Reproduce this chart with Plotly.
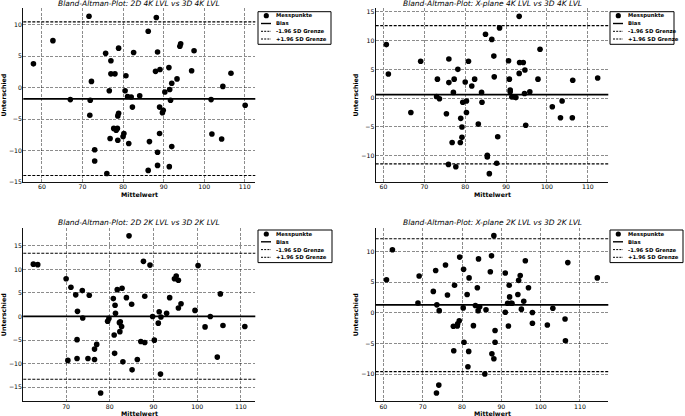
import plotly.graph_objects as go

W, H = 685, 416
FONT = "DejaVu Sans"

# ---------------- data ----------------
titles = [
    "Bland-Altman-Plot: 2D 4K LVL vs 3D 4K LVL",
    "Bland-Altman-Plot: X-plane 4K LVL vs 3D 4K LVL",
    "Bland-Altman-Plot: 2D 2K LVL vs 3D 2K LVL",
    "Bland-Altman-Plot: X-plane 2K LVL vs 3D 2K LVL",
]

mean_2d4k = [57.9, 62.7, 67.0, 71.6, 71.9, 72.2, 71.8, 73.0, 73.0, 75.7, 76.0, 76.6, 77.0, 77.0, 78.0, 76.8,
             77.7, 78.3, 78.6, 78.7, 78.9, 78.7, 78.9, 80.0, 80.2, 80.5, 80.7, 81.1, 81.4, 82.0, 82.3, 82.6,
             84.1, 86.2, 86.2, 86.5, 88.2, 88.0, 88.5, 88.5, 88.5, 89.1, 89.0, 89.0, 89.7, 89.9, 90.3, 91.3,
             91.5, 91.7, 91.4, 92.0, 92.0, 93.3, 94.0, 94.2, 96.9, 97.5, 101.7, 101.9, 104.3, 104.6, 106.6, 110.1]
diff_2d4k = [3.8, 7.5, -1.9, 11.4, -2.0, 1.0, -4.4, -9.9, -11.7, 5.5, -13.7, -0.5, 4.3, 2.2, 2.2, -8.1,
             -6.5, -6.8, -6.5, -4.5, -4.1, -8.4, 6.3, -7.8, -7.3, -0.5, 1.9, -1.4, -8.9, -1.5, -3.1, 5.6,
             -1.3, 9.0, -13.2, -8.6, 11.2, 2.6, 5.7, -10.3, -12.4, 2.9, -3.1, -7.3, -4.0, -3.6, -0.7, 3.2,
             -0.3, -2.0, -12.6, 0.7, -9.4, 1.4, 6.6, 7.0, 2.7, 5.9, -1.9, -7.4, -8.2, 0.2, 2.3, -2.8]

mean_xp4k = [60.7, 61.2, 66.7, 69.1, 73.0, 73.7, 73.2, 75.4, 75.9, 76.0, 76.0, 76.8, 77.1, 77.3, 77.7, 78.2,
             78.8, 78.9, 79.2, 79.2, 79.4, 80.0, 80.3, 80.3, 80.8, 81.6, 82.3, 83.2, 84.0, 84.1, 84.96, 85.4,
             85.4, 85.9, 86.5, 87.0, 87.1, 87.7, 87.95, 88.4, 90.6, 90.8, 91.0, 91.0, 91.4, 92.0, 92.4, 93.2,
             93.2, 93.3, 94.2, 94.6, 94.5, 94.8, 95.8, 97.8, 98.3, 101.3, 103.3, 103.7, 106.2, 106.3, 112.4]
diff_xp4k = [9.3, 4.2, -2.5, 6.4, 0.3, -0.1, 3.3, -2.7, -11.5, 6.8, 2.7, -7.7, 1.0, 3.3, -11.9, 5.0,
             -7.7, -3.5, -5.0, -6.8, -0.7, 2.8, -0.5, -2.5, 6.4, 2.1, 3.3, -4.5, 1.0, -0.7, 11.1, -10.2,
             -9.9, -13.1, 10.2, 7.3, 3.7, -11.3, -6.7, 12.2, 6.5, 3.3, 1.4, 1.1, 0.2, 0.2, 0.1, 14.2,
             4.3, 6.2, 6.2, 4.9, 0.8, -4.7, 1.1, 3.3, 8.5, -1.5, -3.4, -0.5, -3.4, 3.1, 3.5]

mean_2d2k = [62.5, 63.5, 70.0, 70.4, 71.1, 72.2, 72.6, 72.5, 72.5, 73.7, 73.8, 75.0, 75.3, 76.5, 76.5, 77.0,
             77.9, 79.5, 79.8, 80.8, 81.0, 81.1, 81.2, 81.3, 81.7, 82.2, 82.4, 82.3, 82.7, 82.8, 83.0, 83.8,
             84.4, 85.0, 85.1, 86.3, 87.1, 87.7, 88.0, 88.0, 89.2, 89.8, 90.2, 91.1, 91.3, 91.6, 91.7, 93.0,
             93.7, 94.8, 95.2, 95.7, 95.7, 96.3, 99.5, 100.2, 101.8, 103.0, 104.6, 105.3, 105.9, 110.9]
diff_2d2k = [11.1, 11.0, 8.0, -9.3, 6.2, 4.6, 1.1, -4.9, -8.9, 5.5, -0.3, -8.9, 4.5, -6.9, -9.1, -5.9,
             -16.2, -1.0, -0.4, 3.8, -3.9, -7.8, 2.4, 0.7, 5.7, -1.3, -1.1, -3.2, -2.1, 6.0, -9.6, 4.0,
             17.1, 2.6, -11.3, -9.1, -5.3, 11.7, 4.3, -5.5, 10.9, 0.0, -5.0, -1.4, 1.0, -12.2, -0.1, 0.7,
             4.0, 8.0, 8.6, 7.7, 1.8, 2.7, 1.3, 10.8, -2.2, 0.0, -8.6, 4.8, -1.9, -2.1]

mean_xp2k = [60.8, 62.3, 69.1, 68.8, 72.7, 73.3, 73.5, 73.6, 74.1, 74.2, 75.8, 76.3, 77.8, 77.9, 78.1, 78.8,
             78.9, 79.3, 79.4, 80.3, 80.4, 80.5, 81.3, 81.8, 81.7, 81.5, 82.9, 83.4, 83.9, 84.2, 84.1, 84.5,
             86.1, 85.8, 87.2, 87.5, 87.6, 88.1, 88.1, 88.4, 88.4, 91.0, 91.0, 91.6, 91.8, 92.0, 92.1, 92.4,
             92.7, 94.2, 94.4, 94.8, 95.1, 95.7, 96.1, 96.9, 97.9, 97.9, 101.7, 103.1, 106.2, 106.3, 106.9, 114.4]
diff_xp2k = [5.4, 10.3, 6.0, 1.6, 3.5, 6.9, -13.1, 1.3, -11.8, 0.35, 7.8, 2.9, -2.2, -6.2, 4.5, -2.15,
             -1.8, -1.3, 9.1, 0.8, 7.1, -4.8, 3.0, 5.7, -6.3, -8.8, -2.1, 1.2, 4.1, 8.8, 0.35, 1.0,
             0.5, -10.0, 6.7, 9.3, -6.7, -7.5, 12.6, -2.9, -4.8, 0.1, 6.5, 1.55, -2.15, 4.5, 2.6, 1.55,
             1.55, 3.0, 5.3, 6.1, 0.6, 1.9, 8.5, 4.1, 0.05, -1.7, -2.0, 0.74, -1.0, -4.55, 8.2, 5.7]

bias_values = [-1.8, 0.6, 0.05, 1.3]
lower_limits = [-14.0, -11.4, -13.3, -9.6]
upper_limits = [10.5, 12.6, 13.4, 12.1]

legend_labels = ["Messpunkte", "Bias", "-1.96 SD Grenze", "+1.96 SD Grenze"]
x_label = "Mittelwert"
y_label = "Unterschied"

means = [mean_2d4k, mean_xp4k, mean_2d2k, mean_xp2k]
diffs = [diff_2d4k, diff_xp4k, diff_2d2k, diff_xp2k]

# ---------------- layout (pixels) ----------------
x_ranges = [[55.4, 112.6], [58.1, 115.0], [60.2, 113.3], [58.05, 117.2]]
y_ranges = [[-15.0, 12.66], [-14.5, 15.6], [-17.9, 18.7], [-14.4, 13.8]]
y_dticks = [5, 5, 5, 5]
# axes boxes in px: (left, right, top, bottom)
boxes = [(23.3, 255.3, 8.3, 181.7), (375.7, 608.3, 8.3, 181.7),
         (23.3, 255.3, 228.3, 401.0), (375.7, 608.3, 228.3, 401.0)]
title_y = [3.5, 3.5, 222.0, 222.0]
xlabel_y = [194.0, 194.0, 413.0, 413.0]
ylabel_x = [3.5, 355.5, 3.5, 355.5]
legend_boxes = [(258.0, 331.0, 11.7), (610.0, 674.0, 11.7), (258.0, 332.0, 230.0), (610.0, 683.0, 230.0)]


def px(xp):
    return xp / W


def py(yp):
    return 1 - yp / H


fig = go.Figure()
shapes = []
annotations = []
layout_axes = {}

for i in range(4):
    n = "" if i == 0 else str(i + 1)
    l, r, t, b = boxes[i]
    fig.add_trace(go.Scatter(
        x=means[i], y=diffs[i], mode="markers",
        marker=dict(color="black", size=5.6, line=dict(width=0)),
        xaxis="x" + n, yaxis="y" + n, showlegend=False, hoverinfo="skip"))

    common = dict(
        showline=True, linecolor="#111", linewidth=1.2,
        ticks="",
        showgrid=True, gridcolor="rgba(0,0,0,0.45)", gridwidth=0.7, griddash="3px,1.5px",
        zeroline=False, automargin=False,
        tickfont=dict(family=FONT, size=6.2, color="black"),
    )
    layout_axes["xaxis" + n] = dict(
        common, domain=[px(l), px(r)], range=x_ranges[i], dtick=10, tick0=0,
        anchor="y" + n, ticklabelstandoff=-1)
    layout_axes["yaxis" + n] = dict(
        common, domain=[py(b), py(t)], range=y_ranges[i], dtick=y_dticks[i], tick0=0,
        anchor="x" + n, ticklabelstandoff=-1)

    # bias and limits of agreement
    xr = "x" + n + " domain"
    yr = "y" + n
    shapes.append(dict(type="line", xref=xr, yref=yr, x0=0, x1=1,
                       y0=bias_values[i], y1=bias_values[i],
                       line=dict(color="black", width=1.7)))
    for lim in (lower_limits[i], upper_limits[i]):
        shapes.append(dict(type="line", xref=xr, yref=yr, x0=0, x1=1, y0=lim, y1=lim,
                           line=dict(color="black", width=1.1, dash="3px,1.5px")))

    # titles / labels
    annotations.append(dict(text=titles[i], xref="paper", yref="paper",
                            x=px((l + r) / 2), y=py(title_y[i]), xanchor="center", yanchor="middle",
                            showarrow=False,
                            font=dict(family=FONT, size=7.5, color="black", style="italic")))
    annotations.append(dict(text=x_label, xref="paper", yref="paper",
                            x=px((l + r) / 2), y=py(xlabel_y[i]), xanchor="center", yanchor="middle",
                            showarrow=False,
                            font=dict(family=FONT, size=6.3, color="black", weight="bold")))
    annotations.append(dict(text=y_label, xref="paper", yref="paper", textangle=-90,
                            x=px(ylabel_x[i]), y=py((t + b) / 2), xanchor="center", yanchor="middle",
                            showarrow=False,
                            font=dict(family=FONT, size=6.3, color="black", weight="bold")))

    # legend (drawn manually, matplotlib style)
    lx0, lx1, ly0 = legend_boxes[i]
    row_offsets = [4.0, 11.8, 19.6, 27.3]
    shapes.append(dict(type="rect", xref="paper", yref="paper",
                       x0=px(lx0), x1=px(lx1), y0=py(ly0), y1=py(ly0 + 32.6),
                       line=dict(color="black", width=1), fillcolor="white", layer="above"))
    cy = ly0 + row_offsets[0]
    shapes.append(dict(type="circle", xref="paper", yref="paper",
                       x0=px(lx0 + 8.3 - 2.6), x1=px(lx0 + 8.3 + 2.6),
                       y0=py(cy + 2.6), y1=py(cy - 2.6),
                       line=dict(color="black", width=0), fillcolor="black", layer="above"))
    for k, dash, wdt in ((1, "solid", 1.4), (2, "2px,1.2px", 1.0), (3, "2px,1.2px", 1.0)):
        cy = ly0 + row_offsets[k]
        shapes.append(dict(type="line", xref="paper", yref="paper",
                           x0=px(lx0 + 3), x1=px(lx0 + 13), y0=py(cy), y1=py(cy),
                           line=dict(color="black", width=wdt, dash=dash), layer="above"))
    for k in range(4):
        cy = ly0 + row_offsets[k]
        annotations.append(dict(text=legend_labels[k], xref="paper", yref="paper",
                                x=px(lx0 + 15.5), y=py(cy), xanchor="left", yanchor="middle",
                                showarrow=False,
                                font=dict(family=FONT, size=5.3, color="black", weight="bold")))

fig.update_layout(
    width=W, height=H,
    margin=dict(l=0, r=0, t=0, b=0),
    paper_bgcolor="white", plot_bgcolor="white",
    showlegend=False,
    shapes=shapes, annotations=annotations,
    font=dict(family=FONT, color="black"),
    **layout_axes,
)

fig.write_html("out.html")
